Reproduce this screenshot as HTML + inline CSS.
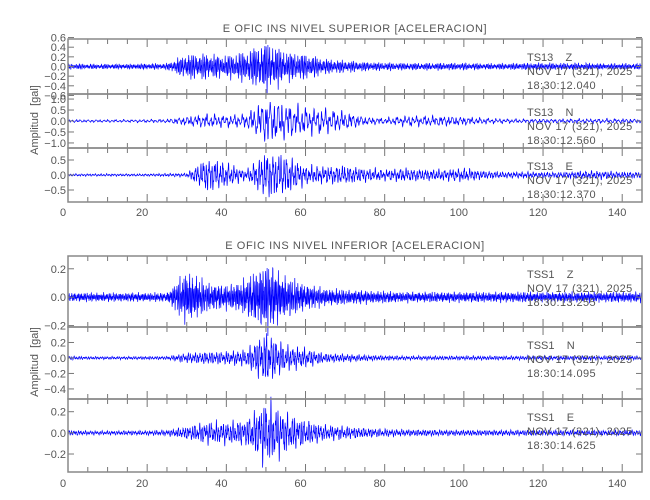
<!DOCTYPE html>
<html><head><meta charset="utf-8"><style>
body{margin:0;background:#fff}
svg{display:block}
text{font-family:"Liberation Sans",sans-serif;fill:#555;font-size:11px;white-space:pre}
</style></head><body>
<svg id="c" width="650" height="500"></svg>
<script>
// envelope amplitudes (gal) sampled every 5 s from 0 to 145 s
const envTimes=[0,5,10,15,20,25,30,35,40,45,50,55,60,65,70,75,80,85,90,95,100,105,110,115,120,125,130,135,140,145];
const topZ=[0.06,0.05,0.05,0.05,0.06,0.06,0.25,0.25,0.22,0.3,0.5,0.3,0.25,0.15,0.12,0.09,0.08,0.07,0.07,0.07,0.07,0.06,0.06,0.07,0.07,0.07,0.07,0.06,0.06,0.06];
const topN=[0.07,0.06,0.06,0.06,0.07,0.08,0.2,0.3,0.25,0.3,1.0,0.8,0.6,0.55,0.4,0.18,0.13,0.22,0.22,0.22,0.18,0.13,0.1,0.09,0.09,0.09,0.1,0.1,0.1,0.09];
const topE=[0.04,0.04,0.04,0.04,0.04,0.05,0.06,0.55,0.4,0.15,0.75,0.65,0.3,0.28,0.3,0.22,0.18,0.22,0.18,0.18,0.22,0.13,0.1,0.1,0.09,0.09,0.13,0.13,0.1,0.1];
const botZ=[0.03,0.03,0.03,0.03,0.03,0.03,0.18,0.1,0.08,0.12,0.24,0.14,0.09,0.06,0.05,0.045,0.04,0.035,0.035,0.035,0.035,0.035,0.035,0.035,0.035,0.035,0.035,0.035,0.035,0.035];
const botN=[0.025,0.018,0.018,0.018,0.02,0.02,0.06,0.08,0.08,0.1,0.34,0.16,0.12,0.06,0.05,0.035,0.03,0.025,0.025,0.025,0.025,0.025,0.025,0.025,0.025,0.025,0.025,0.025,0.025,0.025];
const botE=[0.025,0.018,0.018,0.02,0.02,0.025,0.06,0.1,0.1,0.12,0.3,0.18,0.12,0.07,0.06,0.045,0.035,0.03,0.03,0.025,0.025,0.025,0.025,0.025,0.025,0.025,0.025,0.025,0.025,0.025];
const periods=[0.4,1.0,0.7,0.35,0.6,0.6]; // dominant period per trace (s)

const topTicks=[[0.6,0.4,0.2,0.0,-0.2,-0.4,-0.6],[1.0,0.5,0.0,-0.5,-1.0],[0.5,0.0,-0.5]];
const botTicks=[[0.2,0.0,-0.2],[0.2,0.0,-0.2,-0.4],[0.2,0.0,-0.2]];
const xTicks=[0,20,40,60,80,100,120,140];

const NS="http://www.w3.org/2000/svg",svg=document.getElementById('c');
function el(t,a,p){const e=document.createElementNS(NS,t);for(const k in a)e.setAttribute(k,a[k]);(p||svg).appendChild(e);return e;}
const X0=68,X1=642,XMAX=145;
const xs=t=>X0+(t/XMAX)*(X1-X0);
function env(arr,t){const i=Math.min(Math.floor(t/5),28),f=(t-i*5)/5;return arr[i]*(1-f)+arr[i+1]*f;}

const groups=[
 {title:"E OFIC INS NIVEL SUPERIOR [ACELERACION]",ty:32,top:39,bounds:[39,94,148,202],ranges:[[-0.57,0.57],[-1.23,1.23],[-0.9,0.9]],ticks:topTicks,data:[topZ,topN,topE],labels:["TS13    Z","TS13    N","TS13    E"],times:["18:30:12.040","18:30:12.560","18:30:12.370"],ylab:120,xl:216,name:"upper"},
 {title:"E OFIC INS NIVEL INFERIOR [ACELERACION]",ty:249,top:256,bounds:[256,327,399,472],ranges:[[-0.21,0.29],[-0.53,0.4],[-0.37,0.32]],ticks:botTicks,data:[botZ,botN,botE],labels:["TSS1    Z","TSS1    N","TSS1    E"],times:["18:30:13.255","18:30:14.095","18:30:14.625"],ylab:362,xl:487,name:"lower"}
];
let tr=0;
groups.forEach((g,gi)=>{
  let t=el('text',{x:355,y:g.ty,'text-anchor':'middle','letter-spacing':'0.6'});t.textContent=g.title;
  
  t=el('text',{x:0,y:0,'text-anchor':'middle',transform:`translate(38,${g.ylab}) rotate(-90)`,'font-size':'12'});t.textContent="Amplitud  [gal]";
  
  for(let p=0;p<3;p++){
    const yt=g.bounds[p],yb=g.bounds[p+1],[lo,hi]=g.ranges[p];
    const ys=v=>yb-(v-lo)/(hi-lo)*(yb-yt);
    const pg=el('g',{});
    const arr=g.data[p],per=periods[tr];let d="";
    for(let i=0;i<=2900;i++){const s=i*0.05;
      const c=0.55*Math.sin(2*Math.PI*s/per+tr)+0.3*Math.sin(2*Math.PI*s/(per*0.37)+1.7*tr)+0.25*Math.sin(2*Math.PI*s/(per*2.3)+0.5)+0.2*Math.sin(s*13.7+tr*3.1);
      d+=(i?"L":"M")+xs(s).toFixed(1)+","+ys(env(arr,s)*c).toFixed(1);}
    const w=el('path',{d:d,fill:'none',stroke:'#0000ff','stroke-width':0.7},pg);
    
    g.ticks[p].forEach(v=>{const y=ys(v);
      el('line',{x1:X0,x2:X0+6,y1:y,y2:y,stroke:'#777'},pg);el('line',{x1:X1,x2:X1-6,y1:y,y2:y,stroke:'#777'},pg);
      const l=el('text',{x:X0-2,y:y+4,'text-anchor':'end'},pg);l.textContent=(v<0?"\u2212"+(-v).toFixed(1):v.toFixed(1));
      });
    for(let s=0;s<=145;s+=5){const x=xs(s),L=(s%20==0)?8:5;
      el('line',{x1:x,x2:x,y1:yt,y2:yt+L,stroke:'#777'},pg);el('line',{x1:x,x2:x,y1:yb,y2:yb-L,stroke:'#777'},pg);}
    const lab=el('text',{x:527,y:yt+22},pg);lab.textContent=g.labels[p];
    
    const dt=el('text',{x:527,y:yt+36,'letter-spacing':'0.4'},pg);dt.textContent="NOV 17 (321), 2025";
    
    const tm=el('text',{x:527,y:yt+50,'letter-spacing':'0.4'},pg);tm.textContent=g.times[p];
    
    const fr=el('rect',{x:X0,y:yt,width:X1-X0,height:yb-yt,fill:'none',stroke:'#888','stroke-width':1.5},pg);
    
    tr++;
  }
  xTicks.forEach(v=>{const l=el('text',{x:xs(v)-5,y:g.xl,'text-anchor':'middle','font-size':'12'});l.textContent=v;
    });
});
</script>
</body></html>
